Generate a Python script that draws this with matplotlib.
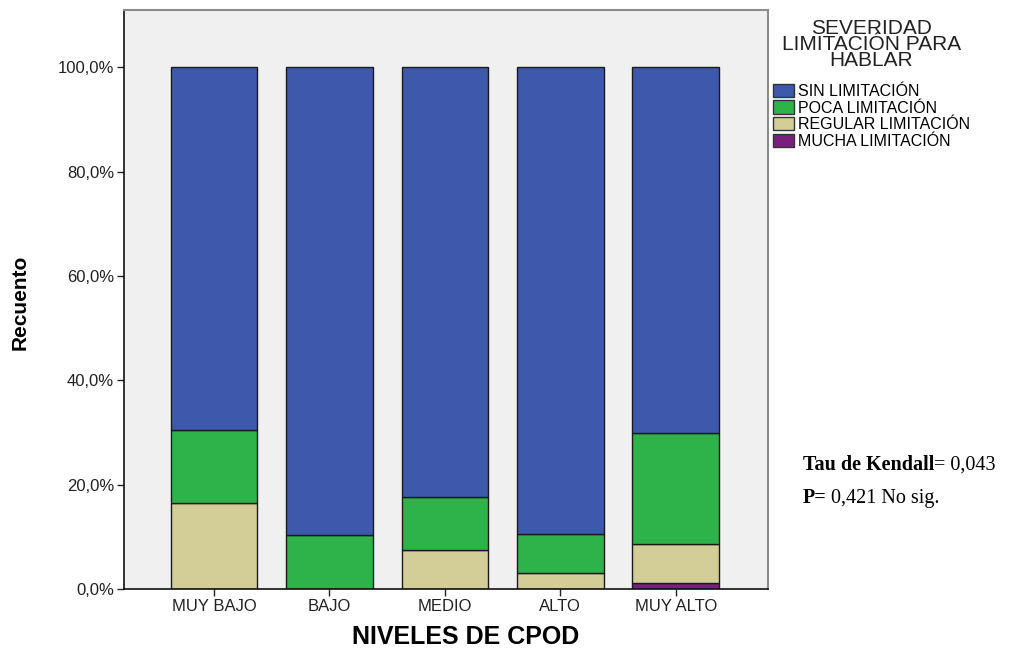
import numpy as np
import matplotlib
matplotlib.use("Agg")
import matplotlib.pyplot as plt
from matplotlib.patches import Patch

plt.rcParams["font.family"] = ["Liberation Sans", "DejaVu Sans"]

niveles = ["MUY BAJO", "BAJO", "MEDIO", "ALTO", "MUY ALTO"]
mucha = [0.0, 0.0, 0.0, 0.0, 1.2]
regular = [16.5, 0.0, 7.4, 3.0, 7.4]
poca = [13.9, 10.4, 10.3, 7.6, 21.4]
sin = [69.6, 89.6, 82.3, 89.4, 70.0]

series = [
    ("MUCHA LIMITACIÓN", mucha, "#7B1F7E"),
    ("REGULAR LIMITACIÓN", regular, "#D3CE97"),
    ("POCA LIMITACIÓN", poca, "#2DB34A"),
    ("SIN LIMITACIÓN", sin, "#3E58AC"),
]

fig = plt.figure(figsize=(10.12, 6.5), dpi=100)
ax = fig.add_axes([0.1225, 0.0938, 0.6365, 0.8908])
ax.set_facecolor("#F0F0F0")

x = np.arange(len(niveles))
bottom = np.zeros(len(niveles))
for name, vals, color in series:
    vals = np.array(vals)
    ax.bar(x, vals, bottom=bottom, width=0.75, color=color,
           edgecolor="#1a1a1a", linewidth=1.0, zorder=2)
    bottom += vals

ax.set_xlim(-0.78, 4.8)
ax.set_ylim(0, 111)
ax.set_xticks(x)
ax.set_xticklabels(niveles, fontsize=12, color="#222222")
yt = [0, 20, 40, 60, 80, 100]
ax.set_yticks(yt)
ax.set_yticklabels([f"{v},0%" for v in yt], fontsize=12, color="#222222")
ax.tick_params(axis="both", length=5, width=1, color="#222222", pad=2)

for side in ["top", "right"]:
    ax.spines[side].set_color("#8c8c8c")
    ax.spines[side].set_linewidth(1.5)
for side in ["left", "bottom"]:
    ax.spines[side].set_color("#111111")
    ax.spines[side].set_linewidth(1.2)

ax.set_xlabel("NIVELES DE CPOD", fontsize=18, fontweight="bold")
ax.xaxis.set_label_coords(0.531, -0.062)
ax.set_ylabel("Recuento", fontsize=15, fontweight="bold")
ax.yaxis.set_label_coords(-0.146, 0.495)

handles = [Patch(facecolor=c, edgecolor="#333333", label=n) for n, v, c in series[::-1]]
fig.text(0.861, 0.97, "SEVERIDAD\nLIMITACIÓN PARA\nHABLAR", ha="center", va="top",
         fontsize=15, linespacing=0.8, color="#222222")
fig.legend(handles=handles, loc="upper left", bbox_to_anchor=(0.758, 0.881),
           frameon=False, fontsize=11.5, handlelength=1.3, handleheight=0.9,
           handletextpad=0.25, labelspacing=0.1, borderaxespad=0)

# anotación: parte en negrita seguida de texto normal
serif = ["Liberation Serif", "DejaVu Serif"]
lines = [("Tau de Kendall", "= 0,043", 0.277), ("P=", " 0,421 No sig.", 0.226)]
fig.canvas.draw()
renderer = fig.canvas.get_renderer()
for bold, normal, yy in lines:
    t = fig.text(0.793, yy, bold, fontsize=14.5, fontweight="bold", family=serif, va="baseline")
    bb = t.get_window_extent(renderer)
    x1 = fig.transFigure.inverted().transform((bb.x1, bb.y0))[0]
    fig.text(x1, yy, normal, fontsize=14.5, family=serif, va="baseline")

fig.savefig("out.png", dpi=100)
